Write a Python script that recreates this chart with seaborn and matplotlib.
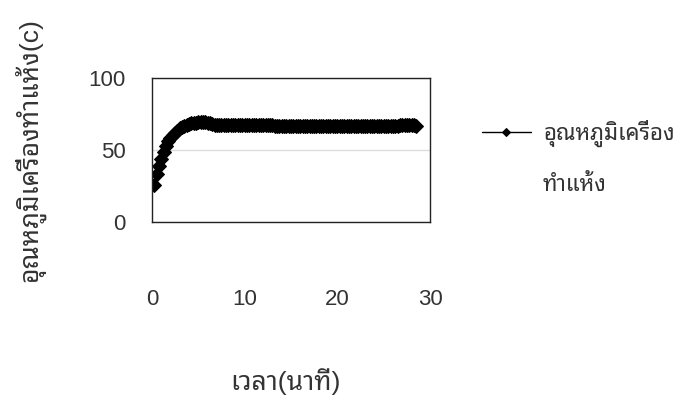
import matplotlib
matplotlib.use('Agg')
import pandas as pd
import seaborn as sns
import matplotlib.pyplot as plt

# เวลา (นาที) and dryer temperature (c)
time_min = [0.25, 0.5, 0.75, 1.0, 1.25, 1.5, 1.75, 2.0,
            2.25, 2.5, 2.75, 3.0, 3.25, 3.5, 3.75, 4.0,
            4.25, 4.5, 4.75, 5.0, 5.25, 5.5, 5.75, 6.0,
            6.25, 6.5, 6.75, 7.0, 7.25, 7.5, 7.75, 8.0,
            8.25, 8.5, 8.75, 9.0, 9.25, 9.5, 9.75, 10.0,
            10.25, 10.5, 10.75, 11.0, 11.25, 11.5, 11.75, 12.0,
            12.25, 12.5, 12.75, 13.0, 13.25, 13.5, 13.75, 14.0,
            14.25, 14.5, 14.75, 15.0, 15.25, 15.5, 15.75, 16.0,
            16.25, 16.5, 16.75, 17.0, 17.25, 17.5, 17.75, 18.0,
            18.25, 18.5, 18.75, 19.0, 19.25, 19.5, 19.75, 20.0,
            20.25, 20.5, 20.75, 21.0, 21.25, 21.5, 21.75, 22.0,
            22.25, 22.5, 22.75, 23.0, 23.25, 23.5, 23.75, 24.0,
            24.25, 24.5, 24.75, 25.0, 25.25, 25.5, 25.75, 26.0,
            26.25, 26.5, 26.75, 27.0, 27.25, 27.5, 27.75, 28.0,
            28.25, 28.5]
temp_c = [26, 33, 39, 44, 48.5, 52.5, 56, 58.5,
          60.5, 62, 63.5, 65, 66, 67, 67.5, 68,
          68.5, 69, 69, 69.5, 69.5, 69.5, 69.5, 69,
          68.5, 68, 67.5, 67.5, 67.5, 67.5, 67.5, 67.5,
          67.5, 67.5, 67.5, 67.5, 67.5, 67.5, 67.5, 67.5,
          67.5, 67.5, 67.5, 67.5, 67.5, 67.5, 67.5, 67.5,
          67.5, 67.5, 67.5, 67.5, 67, 67, 67, 67,
          67, 67, 67, 67, 67, 67, 67, 67,
          67, 67, 67, 67, 67, 67, 67, 67,
          67, 67, 67, 67, 67, 67, 67, 67,
          66.5, 66.5, 66.5, 66.5, 66.5, 66.5, 66.5, 66.5,
          66.5, 66.5, 66.5, 66.5, 66.5, 66.5, 66.5, 66.5,
          66.5, 66.5, 66.5, 66.5, 66.5, 66.5, 66.5, 66.5,
          67, 67, 67.5, 67.5, 67.5, 67.5, 67.5, 67.5,
          67.5, 67]

legend_line1 = 'อุณหภูมิเครื่อง'
legend_line2 = 'ทำแห้ง'
x_label = 'เวลา(นาที)'
y_label = 'อุณหภูมิเครื่องทำแห้ง(c)'

df = pd.DataFrame({'time': time_min, 'temp': temp_c})

sns.set_style('white')
plt.rcParams['font.family'] = ['Liberation Sans', 'Noto Sans Thai Looped', 'DejaVu Sans']

fig = plt.figure(figsize=(6.97, 4.05), dpi=100)
ax = fig.add_axes([0.218, 0.452, 0.399, 0.355])

sns.lineplot(data=df, x='time', y='temp', ax=ax, color='black', linewidth=1,
             marker='D', markersize=7, markeredgecolor='black', label=legend_line1)

ax.set_xlim(0, 30)
ax.set_ylim(0, 100)
ax.set_xticks([0, 10, 20, 30])
ax.set_yticks([0, 50, 100])
ax.tick_params(axis='x', length=0, pad=48, labelsize=16, labelcolor='#333333')
ax.tick_params(axis='y', length=0, pad=19, labelsize=16, labelcolor='#333333')
ax.yaxis.grid(True, color='#dddddd', linewidth=1)
for s in ax.spines.values():
    s.set_color('#222222')
    s.set_linewidth(1)
ax.set_xlabel('')
ax.set_ylabel('')

fig.text(0.409, 0.057, x_label, ha='center', va='center', fontsize=19, color='#333333')
fig.text(0.043, 0.63, y_label, ha='center', va='center', rotation=90,
         fontsize=19, color='#333333')

leg = ax.legend(loc='center left', bbox_to_anchor=(1.187, 0.618), frameon=False,
                fontsize=16, handlelength=2.2, handletextpad=0.55, markerscale=0.6,
                borderaxespad=0, borderpad=0)
for t in leg.get_texts():
    t.set_color('#333333')
fig.text(0.778, 0.543, legend_line2, ha='left', va='center', fontsize=16, color='#333333')

fig.savefig('out.png')
